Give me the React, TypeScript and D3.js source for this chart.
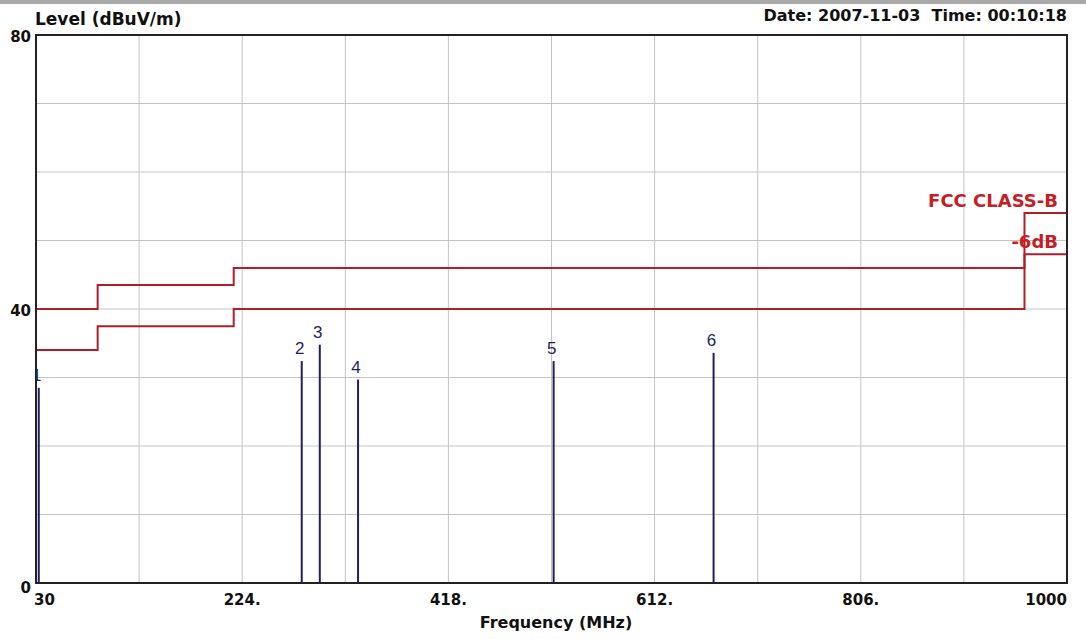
import React from "react";
import * as d3 from "d3";

// ---- data ----
const xTickValues = [30, 224, 418, 612, 806, 1000];
const xTickLabels = ["30", "224.", "418.", "612.", "806.", "1000"];
const yTickValues = [0, 40, 80];
const yTickLabels = ["0", "40", "80"];

const limitFreqs = [30, 88, 216, 960, 1000];
const fccClassB = [40, 43.5, 46, 54, 54];
const fccMinus6 = [34, 37.5, 40, 48, 48];

const peakIds = ["1", "2", "3", "4", "5", "6"];
const peakFreqs = [32.6, 280, 297, 333, 517, 667.5];
const peakLevels = [28.5, 32.4, 34.8, 29.7, 32.4, 33.6];

const W = 1086;
const H = 639;
const M = { left: 36, right: 1067, top: 35, bottom: 583 };
const BOLD = "'DejaVu Sans', Verdana, sans-serif";
const THIN = "'Liberation Sans', Arial, sans-serif";

export default function App() {
  const x = d3.scaleLinear().domain([30, 1000]).range([M.left, M.right]);
  const y = d3.scaleLinear().domain([0, 80]).range([M.bottom, M.top]);

  const xGrid = d3.range(30, 1000.1, 97);
  const yGrid = d3.range(0, 80.1, 10);

  const stepLine = d3
    .line<[number, number]>()
    .x((d) => x(d[0]))
    .y((d) => y(d[1]))
    .curve(d3.curveStepAfter);

  const limitPts = limitFreqs.map((f, i) => [f, fccClassB[i]] as [number, number]);
  const marginPts = limitFreqs.map((f, i) => [f, fccMinus6[i]] as [number, number]);

  const red = "#b01f28";
  const navy = "#1e1e62";

  return (
    <svg
      width={W}
      height={H}
      style={{ position: "absolute", left: 0, top: 0, background: "#fff" }}
    >
      <defs>
        <clipPath id="plotClip">
          <rect x={M.left + 1} y={0} width={M.right - M.left} height={M.bottom} />
        </clipPath>
      </defs>
      <rect x={0} y={0} width={W} height={H} fill="#ffffff" />
      <rect x={0} y={0} width={W} height={4} fill="#a9a9a9" />

      {/* grid */}
      {xGrid.map((v) => (
        <line key={"gx" + v} x1={x(v)} x2={x(v)} y1={M.top} y2={M.bottom} stroke="#c4c4c4" strokeWidth={1} />
      ))}
      {yGrid.map((v) => (
        <line key={"gy" + v} x1={M.left} x2={M.right} y1={y(v)} y2={y(v)} stroke="#c4c4c4" strokeWidth={1} />
      ))}

      {/* limit lines */}
      <path d={stepLine(limitPts) || ""} fill="none" stroke={red} strokeWidth={2} />
      <path d={stepLine(marginPts) || ""} fill="none" stroke={red} strokeWidth={2} />
      <text x={1058} y={207} textAnchor="end" fontFamily={BOLD} fontSize={18} fontWeight="bold" fill="#c41e28">
        FCC CLASS-B
      </text>
      <text x={1058} y={248} textAnchor="end" fontFamily={BOLD} fontSize={18} fontWeight="bold" fill="#c41e28">
        -6dB
      </text>

      {/* peaks */}
      <g clipPath="url(#plotClip)">
        {peakFreqs.map((f, i) => (
          <g key={"p" + i}>
            <line x1={x(f)} x2={x(f)} y1={y(0)} y2={y(peakLevels[i])} stroke={navy} strokeWidth={2} />
            <text
              x={x(f) - 2}
              y={y(peakLevels[i]) - 7}
              textAnchor="middle"
              fontFamily={THIN}
              fontSize={17}
              fill={navy}
            >
              {peakIds[i]}
            </text>
          </g>
        ))}
      </g>

      {/* frame */}
      <rect
        x={M.left}
        y={M.top}
        width={M.right - M.left}
        height={M.bottom - M.top}
        fill="none"
        stroke="#222"
        strokeWidth={2}
      />

      {/* y ticks */}
      {yTickValues.map((v, i) => (
        <text
          key={"yt" + v}
          x={31}
          y={y(v) + (v === 0 ? 10 : 7)}
          textAnchor="end"
          fontFamily={BOLD}
          fontSize={15}
          fontWeight="bold"
          fill="#111"
        >
          {yTickLabels[i]}
        </text>
      ))}
      {/* x ticks */}
      {xTickValues.map((v, i) => (
        <text
          key={"xt" + v}
          x={i === 0 ? x(v) - 2 : x(v)}
          y={605}
          textAnchor={i === 0 ? "start" : i === xTickValues.length - 1 ? "end" : "middle"}
          fontFamily={BOLD}
          fontSize={15}
          fontWeight="bold"
          fill="#111"
        >
          {xTickLabels[i]}
        </text>
      ))}

      <text x={35} y={25} fontFamily={BOLD} fontSize={17} fontWeight="bold" fill="#111">
        Level (dBuV/m)
      </text>
      <text
        x={1067}
        y={21}
        textAnchor="end"
        fontFamily={BOLD}
        fontSize={16}
        fontWeight="bold"
        fill="#111"
        style={{ whiteSpace: "pre" }}
      >
        {"Date: 2007-11-03  Time: 00:10:18"}
      </text>
      <text x={556} y={628} textAnchor="middle" fontFamily={BOLD} fontSize={16} fontWeight="bold" fill="#111">
        Frequency (MHz)
      </text>
    </svg>
  );
}
